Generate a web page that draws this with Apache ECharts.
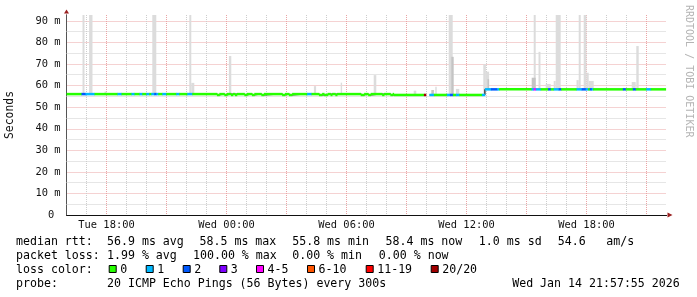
<!DOCTYPE html>
<html><head><meta charset="utf-8">
<script src="https://cdn.jsdelivr.net/npm/echarts@6/dist/echarts.min.js"></script>
<style>html,body{margin:0;padding:0;background:#fff}#c{width:697px;height:297px}</style>
</head><body><div id="c"></div>
<script>
// ---------------- data ----------------
// x values are hours counted from Tue 00:00
const xLabelHours = [18, 24, 30, 36, 42];
const xLabelTexts = ['Tue 18:00', 'Wed 00:00', 'Wed 06:00', 'Wed 12:00', 'Wed 18:00'];
const majorGridHours = [18, 21, 24, 27, 30, 33, 36, 39, 42, 45];
const minorGridHours = [17, 19, 20, 22, 23, 25, 26, 28, 29, 31, 32, 34, 35, 37, 38, 40, 41, 43, 44];
const minorGridMs = [5, 15, 25, 35, 45, 55, 65, 75, 85];
const yLabelValues = [0, 10, 20, 30, 40, 50, 60, 70, 80, 90];
const yLabelTexts = ['0 ', '10 m', '20 m', '30 m', '40 m', '50 m', '60 m', '70 m', '80 m', '90 m'];

const lossLabels = ['0', '1', '2', '3', '4-5', '6-10', '11-19', '20/20'];
const lossFrom   = [0, 1, 2, 3, 4, 6, 11, 20];
const lossColors = ['#26ff00', '#00b8ff', '#0059ff', '#7e00ff', '#ff00ff', '#ff5500', '#ff0000', '#a10000'];

// median rtt: [start hour, end hour, median ms, lost pings of 20]
const medianSegs = [
  [16.00,16.75,56.1,0],[16.75,16.95,56.1,2],[16.95,17.40,56.1,1],[17.40,18.55,56.1,0],
  [18.55,18.75,56.1,1],[18.75,19.25,56.1,0],[19.25,19.40,56.1,1],[19.40,19.65,56.1,0],
  [19.65,19.79,56.1,1],[19.79,19.99,56.1,0],[19.99,20.14,56.1,1],[20.14,20.24,56.1,0],
  [20.24,20.39,56.1,1],[20.39,20.49,56.1,2],[20.49,20.59,56.1,1],[20.59,20.79,56.1,0],
  [20.79,20.99,56.1,1],[20.99,21.49,56.1,0],[21.49,21.64,56.1,1],[21.64,22.04,56.1,0],
  [22.04,22.29,56.1,1],[22.29,23.52,56.1,0],[23.52,23.64,55.7,0],[23.64,23.89,56.1,0],
  [23.89,24.02,55.7,0],[24.02,24.22,56.1,0],[24.22,24.32,55.7,0],[24.32,24.42,56.1,0],
  [24.42,24.52,55.7,0],[24.52,24.89,56.1,0],[24.89,25.02,55.7,0],[25.02,25.27,56.1,0],
  [25.27,25.39,55.7,0],[25.39,25.74,56.1,0],[25.74,25.87,55.7,0],[25.87,26.78,56.1,0],
  [26.78,26.92,55.7,0],[26.92,27.12,56.1,0],[27.12,27.28,55.7,0],[27.28,28.03,56.1,0],
  [28.03,28.25,56.1,1],[28.25,28.62,56.1,0],[28.62,28.78,55.7,0],[28.78,28.88,56.1,0],
  [28.88,29.05,55.7,0],[29.05,29.20,56.1,0],[29.20,29.28,55.7,0],[29.28,29.44,56.1,0],
  [29.44,29.53,55.7,0],[29.53,30.71,56.1,0],[30.71,30.88,55.7,0],[30.88,31.08,56.1,0],
  [31.08,31.21,55.7,0],[31.21,31.78,56.1,0],[31.78,31.88,55.7,0],[31.88,32.19,56.1,0],
  [32.19,32.31,55.7,0],[32.31,32.36,56.1,0],
  [32.36,33.87,55.7,0],[33.87,33.97,55.7,20],
  [34.15,34.37,55.7,1],[34.37,35.02,55.7,0],[35.02,35.17,55.7,1],[35.17,35.32,55.7,2],
  [35.32,35.47,55.7,0],[35.47,35.64,55.7,1],[35.64,36.77,55.7,0],[36.77,36.92,55.7,1],
  [36.92,37.22,58.3,1],[37.22,37.53,58.3,2],[37.53,37.63,58.3,1],[37.63,39.25,58.3,0],
  [39.25,39.36,58.3,1],[39.36,39.46,58.3,4],[39.46,39.71,58.3,1],[39.71,40.08,58.3,0],
  [40.08,40.21,58.3,2],[40.21,40.36,58.3,0],[40.36,40.61,58.3,1],[40.61,40.73,58.3,2],
  [40.73,41.50,58.3,0],[41.50,41.76,58.3,1],[41.76,41.96,58.3,2],[41.96,42.08,58.3,1],
  [42.08,42.16,58.3,0],[42.16,42.26,58.3,2],[42.26,42.33,58.3,1],[42.33,43.82,58.3,0],
  [43.82,43.96,58.3,2],[43.96,44.32,58.3,0],[44.32,44.46,58.3,2],[44.46,44.99,58.3,0],
  [44.99,45.21,58.3,1],[45.21,45.96,58.3,0]
];

// smoke (ping spread): [start hour, end hour, low ms, high ms, inner layer 0/1]
const smokeSegs = [
  [16.80,16.90,56.1,100,0],[17.13,17.30,56.1,100,0],[17.90,18.00,56.1,57.3,0],
  [20.29,20.49,56.1,100,0],[22.14,22.24,56.1,100,0],[22.24,22.39,56.1,61.3,0],
  [24.12,24.24,56.1,73.8,0],[28.37,28.48,56.1,59.8,0],[29.71,29.78,56.1,61.4,0],
  [31.36,31.49,56.1,64.9,0],[33.36,33.49,55.7,57.7,0],[34.24,34.37,55.7,58.0,1],
  [34.44,34.51,55.7,59.5,0],[35.11,35.31,55.7,100,0],[35.24,35.36,55.7,73.4,1],
  [35.47,35.64,55.7,58.5,0],[36.84,36.97,55.7,70.0,0],[36.97,37.13,58.3,66.5,0],
  [37.05,37.13,58.3,63.0,1],[39.36,39.46,58.3,100,0],[39.26,39.46,58.3,63.7,1],
  [39.60,39.70,58.3,75.7,0],[39.96,40.21,58.3,60.8,0],[40.36,40.46,58.3,62.2,0],
  [40.46,40.71,58.3,100,0],[41.50,41.61,58.3,62.6,0],[41.61,41.71,58.3,100,0],
  [41.86,42.00,58.3,100,0],[42.00,42.11,58.3,66.0,0],[42.11,42.36,58.3,62.2,0],
  [44.26,44.46,58.3,61.7,0],[44.49,44.61,58.3,78.4,0]
];

const statLine1 = ['median rtt:', '56.9 ms avg', '58.5 ms max', '55.8 ms min', '58.4 ms now', '1.0 ms sd', '54.6', 'am/s'];
const statLine2 = ['packet loss:', '1.99 % avg', '100.00 % max', '0.00 % min', '0.00 % now'];
const statLine3 = ['loss color:'];
const statLine4 = ['probe:', '20 ICMP Echo Pings (56 Bytes) every 300s', 'Wed Jan 14 21:57:55 2026'];

// ---------------- layout ----------------
const MONO = '"DejaVu Sans Mono", monospace';
const line1X = [16, 107, 199.5, 292.2, 385.5, 478.8, 557.8, 606.2];
const line2X = [16, 107, 193, 292.2, 378.8];
const line4X = [16, 107, 512.2];
const lineY = [241.5, 255.7, 269.9, 284.2];
const squareX = [108.7, 145.7, 182.7, 219.3, 256, 307, 365.7, 430.7];
const textFont = '11.6px ' + MONO;

function lossColor(n) {
  let c = lossColors[0];
  for (let i = 0; i < lossFrom.length; i++) if (n >= lossFrom[i]) c = lossColors[i];
  return c;
}

const stepLine = [];
medianSegs.forEach((s, i) => {
  if (i > 0 && Math.abs(medianSegs[i - 1][1] - s[0]) > 0.001) stepLine.push([s[0], '-']);
  stepLine.push([s[0], s[2]]);
  stepLine.push([s[1], s[2]]);
});

const graphics = [];
function addLine(texts, xs, y) {
  texts.forEach((t, i) => graphics.push({
    type: 'text', x: xs[i], y: y, silent: true,
    style: { text: t, font: textFont, fill: '#000', align: 'left', verticalAlign: 'middle' }
  }));
}
addLine(statLine1, line1X, lineY[0]);
addLine(statLine2, line2X, lineY[1]);
addLine(statLine3, [16], lineY[2]);
addLine(statLine4, line4X, lineY[3]);
lossLabels.forEach((lab, i) => {
  graphics.push({ type: 'rect', silent: true,
    shape: { x: squareX[i] + 0.5, y: lineY[2] - 4.4, width: 7, height: 7 },
    style: { fill: lossColors[i], stroke: '#000', lineWidth: 1 } });
  graphics.push({ type: 'text', x: squareX[i] + 11.5, y: lineY[2], silent: true,
    style: { text: lab, font: textFont, fill: '#000', align: 'left', verticalAlign: 'middle' } });
});
graphics.push({ type: 'text', x: 688.5, y: 5, rotation: -Math.PI / 2, silent: true,
  style: { text: 'RRDTOOL / TOBI OETIKER', font: '10px ' + MONO, fill: '#b4b4b4', align: 'left', verticalAlign: 'middle' } });

const YMAX = 92.8;
const gridGrey = '#cdcdcd';
const gridRed = '#eaa4a4';
const arrowRed = '#9a2020';
const crisp = v => Math.round(v - 0.5) + 0.5;

function vLineSeries(name, data, color, z) {
  return { type: 'custom', name: name, data: data, z: z, silent: true, encode: { x: 0 },
    renderItem: (params, api) => {
      const h = api.value(0);
      const p1 = api.coord([h, YMAX]);
      const p2 = api.coord([h, 0]);
      const x = crisp(p1[0]);
      return { type: 'line', shape: { x1: x, y1: p1[1], x2: x, y2: p2[1] },
        style: { stroke: color, lineWidth: 1, lineDash: [1, 1] } };
    } };
}
function hLineSeries(name, data, color, z) {
  return { type: 'custom', name: name, data: data, z: z, silent: true, encode: { y: 0 },
    renderItem: (params, api) => {
      const v = api.value(0);
      const p1 = api.coord([16, v]);
      const p2 = api.coord([46, v]);
      const y = crisp(p1[1]);
      return { type: 'line', shape: { x1: p1[0], y1: y, x2: p2[0], y2: y },
        style: { stroke: color, lineWidth: 1, lineDash: [1, 1] } };
    } };
}

const chart = echarts.init(document.getElementById('c'), null, { renderer: 'canvas' });
chart.setOption({
  animation: false,
  backgroundColor: '#ffffff',
  grid: { left: 66.5, right: 30.5, top: 15, bottom: 82, containLabel: false, outerBoundsMode: 'none' },
  graphic: graphics,
  xAxis: [
    { type: 'value', min: 16, max: 46, interval: 1, position: 'bottom', z: 2,
      axisLine: { show: true, onZero: false, lineStyle: { color: '#111', width: 1 } },
      axisTick: { show: false },
      axisLabel: { show: true, margin: 10, verticalAlign: 'middle', color: '#111',
        fontFamily: MONO, fontSize: 10.4,
        formatter: v => { const i = xLabelHours.indexOf(Math.round(v)); return (i >= 0 && Math.abs(v - Math.round(v)) < 1e-6) ? xLabelTexts[i] : ''; } },
      splitLine: { show: false } },
    { type: 'value', min: 16, max: 46, position: 'bottom', z: 1,
      axisLine: { show: true, onZero: false, symbol: ['none', 'triangle'], symbolSize: [5, 5], symbolOffset: [0, 3.5],
        lineStyle: { color: arrowRed, width: 1 } },
      axisTick: { show: false }, axisLabel: { show: false }, splitLine: { show: false } }
  ],
  yAxis: [
    { type: 'value', min: 0, max: YMAX, interval: 10, position: 'left', z: 3,
      name: 'Seconds', nameLocation: 'middle', nameRotate: 90, nameGap: 51,
      nameTextStyle: { fontFamily: MONO, fontSize: 11.4, color: '#111' },
      axisLine: { show: true, onZero: false, lineStyle: { color: '#555', width: 1 } },
      axisTick: { show: false },
      axisLabel: { show: true, margin: 6, color: '#111', fontFamily: MONO, fontSize: 10.4,
        formatter: v => { const i = yLabelValues.indexOf(Math.round(v)); return (i >= 0 && Math.abs(v - Math.round(v)) < 1e-6) ? yLabelTexts[i] : ''; } },
      splitLine: { show: true, showMinLine: false, showMaxLine: false, lineStyle: { color: gridRed, type: [1, 1], width: 1 } } },
    { type: 'value', min: 0, max: YMAX, position: 'left', offset: 0, z: 1,
      axisLine: { show: true, onZero: false, symbol: ['none', 'triangle'], symbolSize: [5, 4], symbolOffset: [0, 3.5],
        lineStyle: { color: arrowRed, width: 1 } },
      axisTick: { show: false }, axisLabel: { show: false }, splitLine: { show: false } }
  ],
  series: [
    hLineSeries('minorH', minorGridMs, gridGrey, 4),
    vLineSeries('minorV', minorGridHours, gridGrey, 4),
    vLineSeries('majorV', majorGridHours, gridRed, 5),
    { type: 'custom', name: 'smoke', data: smokeSegs, z: 10, silent: true, clip: true,
      encode: { x: [0, 1], y: [2, 3] },
      renderItem: (params, api) => {
        const p1 = api.coord([api.value(0), api.value(3)]);
        const p2 = api.coord([api.value(1), api.value(2)]);
        const cs = params.coordSys;
        const r = echarts.graphic.clipRectByRect(
          { x: p1[0], y: p1[1], width: p2[0] - p1[0], height: p2[1] - p1[1] },
          { x: cs.x, y: cs.y, width: cs.width, height: cs.height });
        if (!r) return null;
        return { type: 'rect', shape: r, style: { fill: api.value(4) ? '#c4c4c4' : '#dcdcdc' } };
      } },
    { type: 'line', name: 'step', data: stepLine, z: 11, silent: true, symbol: 'none',
      connectNulls: false, lineStyle: { color: '#000', width: 1 } },
    { type: 'custom', name: 'median', data: medianSegs, z: 12, silent: true,
      encode: { x: [0, 1], y: 2 },
      renderItem: (params, api) => {
        const p1 = api.coord([api.value(0), api.value(2)]);
        const p2 = api.coord([api.value(1), api.value(2)]);
        return { type: 'rect',
          shape: { x: p1[0], y: p1[1] - 1.25, width: p2[0] - p1[0] + 0.4, height: 2.5 },
          style: { fill: lossColor(api.value(3)) } };
      } }
  ]
});
</script>
</body></html>
